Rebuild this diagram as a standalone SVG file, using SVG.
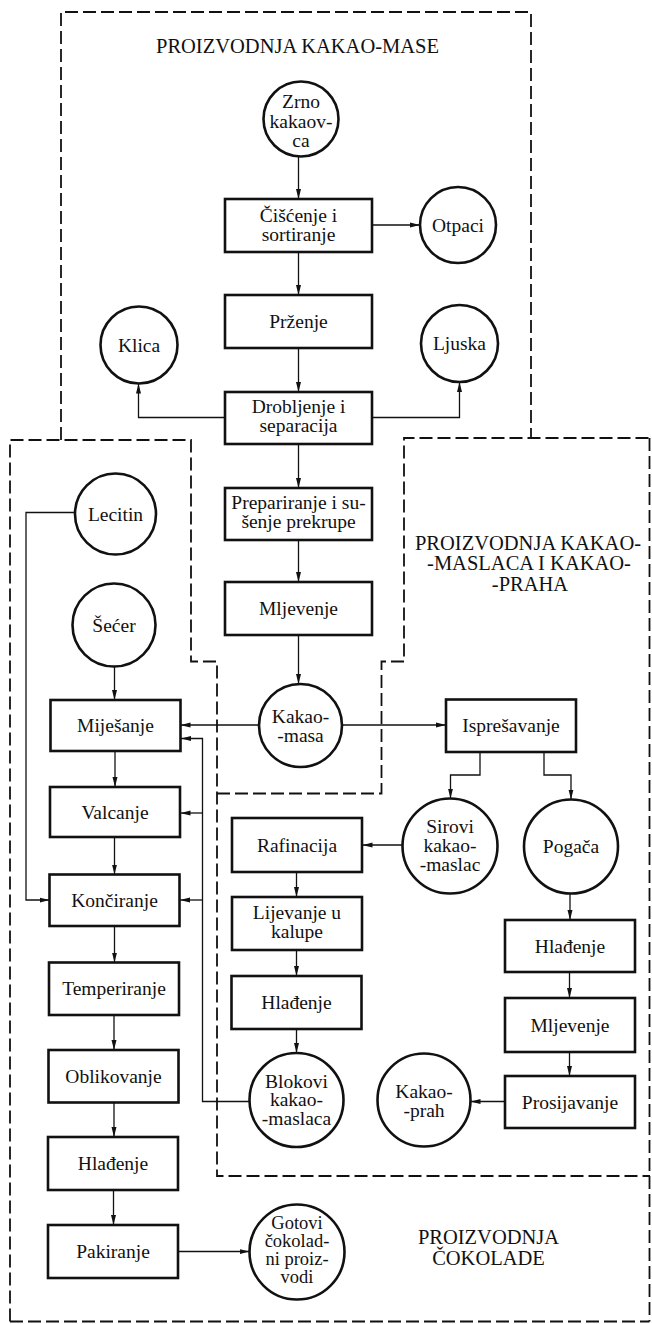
<svg xmlns="http://www.w3.org/2000/svg" width="652" height="1324" viewBox="0 0 652 1324">
  <style>
    .box { fill: #fff; stroke: #111; stroke-width: 2.6; }
    .node { fill: #fff; stroke: #111; stroke-width: 2.6; }
    text { font-family: "Liberation Serif", "Times New Roman", serif; font-size: 19.5px; fill: #111; text-anchor: middle; }
    .title { font-size: 20.5px; }
    .small { font-size: 18.5px; }
    .edge { fill: none; stroke: #111; stroke-width: 1.3; }
    .arrow { marker-end: url(#ah); }
    .zone { fill: none; stroke: #111; stroke-width: 1.8; stroke-dasharray: 13 5; }
  </style>
  <defs>
    <marker id="ah" markerUnits="userSpaceOnUse" markerWidth="10" markerHeight="6" refX="10" refY="3" orient="auto">
      <path d="M0,0.5 L10,3 L0,5.5 z" fill="#111"/>
    </marker>
  </defs>

  <rect width="652" height="1324" fill="#fff"/>

  <!-- process zones (dashed outlines) -->
  <g id="zones">
    <path class="zone" d="M61,440 V12 H531 V438"/>
    <path class="zone" d="M10,1321.5 V440 H191 V661.5 H217 V1176 H650"/>
    <path class="zone" d="M217,793.5 H381.5 V661.5 H404 V438 H652"/>
    <path class="zone" d="M649.5,438 V1321.5"/>
    <path class="zone" d="M10,1321.5 H649.5"/>
    <text class="title" x="297.5" y="53">PROIZVODNJA KAKAO-MASE</text>
    <text class="title" x="528" y="549.5">PROIZVODNJA KAKAO-</text>
    <text class="title" x="529" y="570">-MASLACA I KAKAO-</text>
    <text class="title" x="530" y="590.5">-PRAHA</text>
    <text class="title" x="488.5" y="1244">PROIZVODNJA</text>
    <text class="title" x="488.5" y="1264.5">ČOKOLADE</text>
  </g>

  <!-- connectors -->
  <g id="connectors">
    <path class="edge arrow" d="M298.5,156.5 V199"/>
    <path class="edge arrow" d="M372,225 H420"/>
    <path class="edge arrow" d="M298.5,252 V295"/>
    <path class="edge arrow" d="M298.5,348 V392"/>
    <path class="edge arrow" d="M225,417.5 H138.5 V383.5"/>
    <path class="edge arrow" d="M372,417.5 H459.5 V382"/>
    <path class="edge arrow" d="M298.5,444 V488"/>
    <path class="edge arrow" d="M298.5,540 V582"/>
    <path class="edge arrow" d="M298.5,635 V684"/>
    <path class="edge arrow" d="M259,725 H180.5"/>
    <path class="edge arrow" d="M342,725 H446"/>
    <path class="edge arrow" d="M114.5,666.5 V700"/>
    <path class="edge arrow" d="M75,512.5 H26 V900 H49.5"/>
    <path class="edge arrow" d="M249.7,1101.5 H202.5 V738.5 H181"/>
    <path class="edge arrow" d="M202.5,813 H180.5"/>
    <path class="edge arrow" d="M202.5,900 H180"/>
    <path class="edge arrow" d="M115,751 V787"/>
    <path class="edge arrow" d="M114.5,837 V874.5"/>
    <path class="edge arrow" d="M114.5,926 V962.5"/>
    <path class="edge arrow" d="M114,1015 V1050"/>
    <path class="edge arrow" d="M114,1102.5 V1137"/>
    <path class="edge arrow" d="M113.5,1190 V1225"/>
    <path class="edge arrow" d="M178,1251.5 H249.5"/>
    <path class="edge arrow" d="M480,752 V775 H450.5 V798.5"/>
    <path class="edge arrow" d="M544,752 V775 H571 V799.5"/>
    <path class="edge arrow" d="M402.5,845 H362.5"/>
    <path class="edge arrow" d="M296.5,872 V897"/>
    <path class="edge arrow" d="M296.5,950 V976"/>
    <path class="edge arrow" d="M296.5,1029 V1053"/>
    <path class="edge arrow" d="M570,893.5 V920"/>
    <path class="edge arrow" d="M569.5,972 V998"/>
    <path class="edge arrow" d="M569.5,1052 V1076"/>
    <path class="edge arrow" d="M505,1101.5 H470.5"/>
  </g>

  <!-- cocoa mass production -->
  <g id="zrno">
    <circle class="node" cx="301" cy="119" r="37.5"/>
    <text x="301" y="108">Zrno</text>
    <text x="301" y="127.5">kakaov-</text>
    <text x="301" y="147">ca</text>
  </g>
  <g id="ciscenje">
    <rect class="box" x="225" y="199" width="147" height="53"/>
    <text x="298.5" y="221.5">Čišćenje i</text>
    <text x="298.5" y="240.5">sortiranje</text>
  </g>
  <g id="otpaci">
    <circle class="node" cx="458" cy="225" r="38"/>
    <text x="458" y="231.5">Otpaci</text>
  </g>
  <g id="przenje">
    <rect class="box" x="225" y="295" width="147" height="53"/>
    <text x="298.5" y="328">Prženje</text>
  </g>
  <g id="klica">
    <circle class="node" cx="139" cy="345" r="38.5"/>
    <text x="139" y="351.5">Klica</text>
  </g>
  <g id="ljuska">
    <circle class="node" cx="459.5" cy="343.5" r="38.5"/>
    <text x="459.5" y="350">Ljuska</text>
  </g>
  <g id="drobljenje">
    <rect class="box" x="225" y="392" width="147" height="52"/>
    <text x="298.5" y="412.5">Drobljenje i</text>
    <text x="298.5" y="431.5">separacija</text>
  </g>
  <g id="prepariranje">
    <rect class="box" x="225" y="488" width="147" height="52"/>
    <text x="298.5" y="509">Prepariranje i su-</text>
    <text x="298.5" y="528">šenje prekrupe</text>
  </g>
  <g id="mljevenje-masa">
    <rect class="box" x="225" y="582" width="147" height="53"/>
    <text x="298.5" y="615">Mljevenje</text>
  </g>
  <g id="kakao-masa">
    <circle class="node" cx="300.5" cy="725.5" r="41.5"/>
    <text x="300.5" y="722.5">Kakao-</text>
    <text x="300.5" y="741.5">-masa</text>
  </g>

  <!-- chocolate production -->
  <g id="lecitin">
    <circle class="node" cx="115.5" cy="514" r="40.5"/>
    <text x="115.5" y="520.5">Lecitin</text>
  </g>
  <g id="secer">
    <circle class="node" cx="114" cy="625" r="41.5"/>
    <text x="114" y="631.5">Šećer</text>
  </g>
  <g id="mijesanje">
    <rect class="box" x="50.5" y="700" width="130" height="51"/>
    <text x="115.5" y="732">Miješanje</text>
  </g>
  <g id="valcanje">
    <rect class="box" x="50" y="787" width="130" height="50"/>
    <text x="115" y="819">Valcanje</text>
  </g>
  <g id="konciranje">
    <rect class="box" x="49.5" y="874.5" width="130" height="51.5"/>
    <text x="114.5" y="906.5">Končiranje</text>
  </g>
  <g id="temperiranje">
    <rect class="box" x="49" y="962.5" width="130" height="52.5"/>
    <text x="114" y="995">Temperiranje</text>
  </g>
  <g id="oblikovanje">
    <rect class="box" x="48.5" y="1050" width="130" height="52.5"/>
    <text x="113.5" y="1082.5">Oblikovanje</text>
  </g>
  <g id="hladenje-cokolada">
    <rect class="box" x="48" y="1137" width="130" height="53"/>
    <text x="113" y="1169.5">Hlađenje</text>
  </g>
  <g id="pakiranje">
    <rect class="box" x="48" y="1225" width="130" height="53"/>
    <text x="113" y="1257.5">Pakiranje</text>
  </g>
  <g id="gotovi">
    <circle class="node" cx="297" cy="1252" r="47.5"/>
    <text class="small" x="297" y="1229">Gotovi</text>
    <text class="small" x="297" y="1247">čokolad-</text>
    <text class="small" x="297" y="1265">ni proiz-</text>
    <text class="small" x="297" y="1283">vodi</text>
  </g>

  <!-- cocoa butter and cocoa powder production -->
  <g id="isprezavanje">
    <rect class="box" x="446" y="699.5" width="130" height="52.5"/>
    <text x="511" y="732">Isprešavanje</text>
  </g>
  <g id="sirovi">
    <circle class="node" cx="450" cy="846" r="47.5"/>
    <text x="450" y="832.5">Sirovi</text>
    <text x="450" y="851.5">kakao-</text>
    <text x="450" y="870.5">-maslac</text>
  </g>
  <g id="pogaca">
    <circle class="node" cx="571" cy="846.5" r="47"/>
    <text x="571" y="853">Pogača</text>
  </g>
  <g id="rafinacija">
    <rect class="box" x="232" y="818" width="130" height="54"/>
    <text x="297" y="851.5">Rafinacija</text>
  </g>
  <g id="lijevanje">
    <rect class="box" x="232" y="897" width="130" height="53"/>
    <text x="297" y="918.5">Lijevanje u</text>
    <text x="297" y="937.5">kalupe</text>
  </g>
  <g id="hladenje-maslac">
    <rect class="box" x="231.5" y="976" width="130" height="53"/>
    <text x="296.5" y="1009">Hlađenje</text>
  </g>
  <g id="blokovi">
    <circle class="node" cx="296.5" cy="1100" r="47"/>
    <text x="296.5" y="1087.5">Blokovi</text>
    <text x="296.5" y="1106">kakao-</text>
    <text x="296.5" y="1124.5">-maslaca</text>
  </g>
  <g id="hladenje-pogaca">
    <rect class="box" x="505" y="920" width="130" height="52"/>
    <text x="570" y="952.5">Hlađenje</text>
  </g>
  <g id="mljevenje-pogaca">
    <rect class="box" x="505" y="998" width="130" height="54"/>
    <text x="570" y="1031.5">Mljevenje</text>
  </g>
  <g id="prosijavanje">
    <rect class="box" x="505" y="1076" width="130" height="52"/>
    <text x="570" y="1108.5">Prosijavanje</text>
  </g>
  <g id="kakao-prah">
    <circle class="node" cx="424" cy="1100" r="46.5"/>
    <text x="424" y="1097.5">Kakao-</text>
    <text x="424" y="1116.5">-prah</text>
  </g>
</svg>
